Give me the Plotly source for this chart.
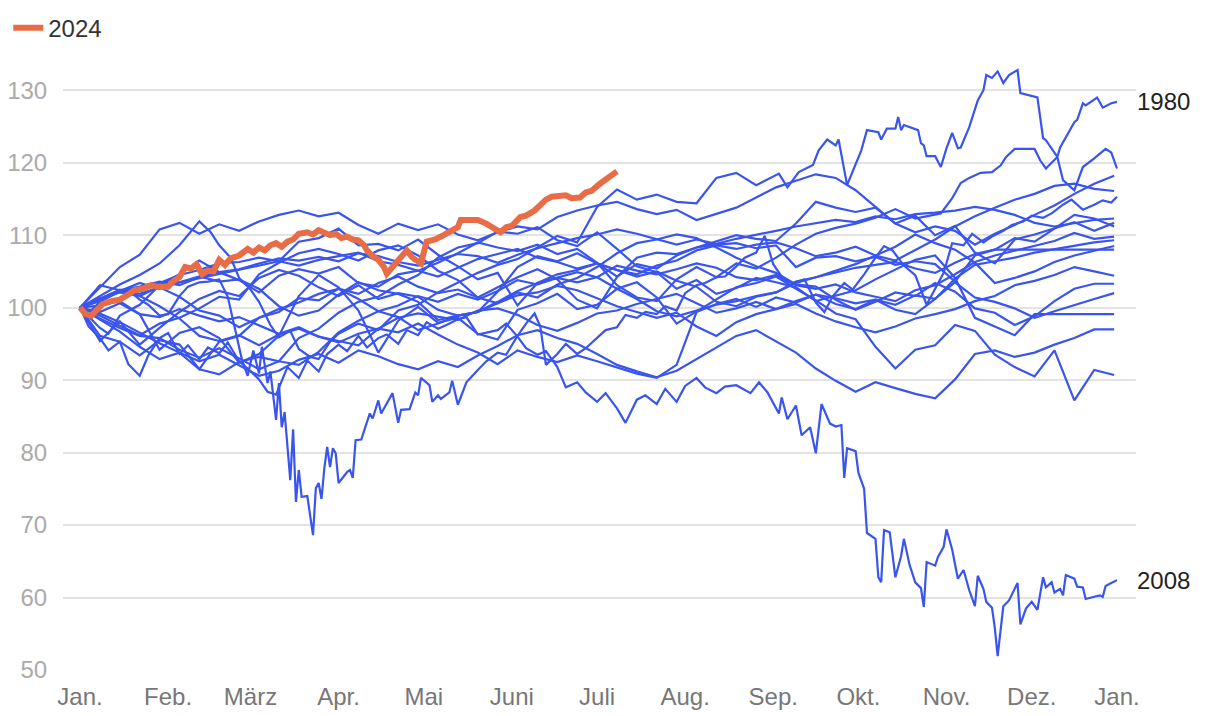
import plotly.graph_objects as go

# ---- axis / labels ----
month_days = [0, 31, 60, 91, 121, 152, 182, 213, 244, 274, 305, 335, 365]
month_labels = ["Jan.", "Feb.", "März", "Apr.", "Mai", "Juni", "Juli", "Aug.", "Sep.", "Okt.", "Nov.", "Dez.", "Jan."]
y_ticks = [50, 60, 70, 80, 90, 100, 110, 120, 130]

# shared weekly grid (day of year)
weekly_days = list(range(0, 365, 7))

# ---- weekly series (index, first trading day = 100) ----
y1948 = [100, 99.2, 98.0, 96.5, 95.1, 93.8, 91.5, 90.8, 92.5, 93.2, 92.6, 95.8, 97.1, 99.3, 100.8, 101.5, 103.2, 104.5,
         106.9, 108.3, 108.9, 110.5, 110.2, 111.1, 109.3, 108.5, 110.4, 108.1, 105.7, 104.9, 102.6, 103.8, 101.9, 102.7,
         104.1, 103.5, 102.8, 100.9, 101.6, 102.4, 103.9, 105.2, 106.6, 107.2, 104.1, 98.6, 97.4, 96.2, 99.1, 99.1,
         99.1, 99.1, 99.1]
y1952 = [100, 101.2, 102.5, 101.9, 102.8, 101.5, 99.6, 98.9, 97.3, 98.6, 99.8, 100.7, 101.9, 102.6, 101.2, 99.5, 98.7,
         96.9, 97.8, 98.9, 99.4, 100.8, 102.3, 103.4, 104.1, 104.9, 104.2, 105.8, 105.1, 104.6, 105.3, 106.1, 105.5,
         104.2, 103.8, 104.5, 103.1, 102.6, 103.2, 102.1, 101.5, 100.9, 102.4, 103.1, 104.6, 106.3, 107.2, 107.9,
         108.6, 109.2, 110.3, 109.5, 109.8]
y1956 = [100, 98.9, 97.5, 96.2, 97.8, 98.6, 99.9, 101.5, 101.1, 104.6, 106.2, 107.5, 108.1, 107.4, 106.5, 107.9, 108.6,
         107.2, 105.1, 103.8, 101.4, 100.6, 102.1, 101.4, 103.2, 104.1, 105.6, 107.5, 108.9, 109.4, 110.1, 109.6, 108.3,
         106.9, 105.7, 104.8, 103.2, 102.9, 101.1, 99.7, 100.8, 102.1, 101.6, 103.4, 102.2, 99.9, 99.3, 97.6, 98.8,
         100.9, 102.6, 103.3, 103.3]
y1960 = [100, 98.4, 96.7, 94.6, 92.9, 93.8, 92.6, 93.5, 92.1, 90.6, 91.3, 92.8, 93.6, 92.4, 94.1, 93.3, 92.2, 91.5,
         92.6, 91.8, 93.4, 94.7, 96.2, 96.9, 95.8, 95.0, 93.6, 92.1, 91.2, 90.4, 91.3, 92.9, 94.6, 96.1, 96.9, 95.4,
         93.8, 91.6, 89.9, 88.4, 89.7, 88.9, 88.1, 87.5, 90.1, 93.6, 94.1, 93.2, 93.8, 94.9, 95.8, 97.0, 97.0]
y1964 = [100, 101.2, 102.4, 102.9, 103.6, 103.1, 104.2, 104.9, 105.3, 106.1, 106.8, 106.5, 107.0, 106.4, 107.5, 107.1,
         106.3, 105.8, 106.6, 107.4, 107.1, 106.2, 107.3, 108.2, 108.9, 109.6, 110.1, 110.8, 110.2, 109.5, 108.7, 109.4,
         108.8, 109.5, 110.0, 110.6, 111.2, 111.7, 112.1, 111.8, 112.6, 112.2, 112.9, 113.1, 113.4, 113.9, 113.5, 112.8,
         111.7, 111.2, 111.6, 112.1, 112.3]
y1968 = [100, 98.5, 97.2, 96.1, 95.8, 94.2, 93.1, 94.4, 93.0, 91.5, 92.6, 92.1, 93.9, 96.6, 98.2, 99.5, 100.3, 101.6,
         100.8, 101.9, 101.1, 102.3, 103.8, 103.2, 104.1, 103.5, 104.2, 102.6, 101.2, 99.5, 98.8, 99.6, 100.4, 100.9,
         101.6, 102.1, 103.4, 104.2, 104.9, 105.5, 105.9, 106.3, 105.4, 104.8, 106.2, 107.4, 108.0, 108.0, 108.0, 108.0,
         108.0, 108.0, 108.0]
y1972 = [100, 101.3, 102.1, 101.6, 102.9, 103.5, 104.1, 104.6, 105.3, 105.9, 106.4, 105.8, 106.6, 107.1, 107.6, 106.4,
         105.9, 105.1, 104.3, 105.5, 106.7, 107.4, 108.1, 106.9, 106.3, 105.4, 106.1, 105.2, 104.6, 105.8, 106.5, 107.9,
         108.6, 108.1, 108.7, 109.0, 108.2, 107.1, 107.6, 108.4, 107.2, 106.5, 107.9, 109.4, 111.2, 112.6, 113.8, 114.9,
         115.7, 116.8, 117.1, 116.4, 116.1]
y1976 = [100, 102.8, 105.6, 107.3, 110.8, 111.7, 110.2, 111.5, 110.6, 111.9, 112.8, 113.4, 112.6, 113.1, 111.4, 110.2,
         111.6, 110.7, 111.5, 110.1, 109.3, 110.4, 111.2, 110.8, 112.5, 113.4, 114.1, 114.6, 113.6, 112.9, 113.5, 112.1,
         112.9, 113.8, 115.2, 116.6, 117.5, 118.4, 117.9, 116.2, 113.9, 111.6, 110.4, 111.2, 110.6, 108.7, 110.2, 111.4,
         112.8, 114.1, 115.7, 117.1, 118.2]
y1984 = [100, 103.1, 102.4, 101.6, 100.2, 98.5, 96.1, 95.4, 96.2, 94.8, 96.3, 97.1, 96.0, 95.2, 96.4, 97.1, 96.6, 97.8,
         96.3, 94.9, 93.8, 92.2, 94.1, 93.2, 92.5, 93.4, 92.6, 91.8, 90.9, 90.3, 92.1, 99.4, 100.5, 101.2, 100.1, 101.4,
         100.7, 101.8, 100.5, 99.8, 101.1, 100.4, 101.7, 101.2, 103.5, 101.4, 100.8, 99.9, 98.6, 99.5, 100.4, 101.2, 102.0]
y1988 = [100, 95.4, 98.1, 94.9, 97.2, 99.4, 101.2, 102.3, 101.6, 104.1, 105.2, 104.4, 102.8, 101.6, 103.1, 101.2, 102.0,
         101.5, 99.7, 98.9, 99.4, 102.2, 105.6, 107.1, 106.4, 107.5, 106.1, 105.2, 104.3, 105.0, 103.7, 102.9, 100.8,
         100.2, 101.5, 102.1, 103.6, 104.2, 105.1, 106.0, 107.2, 108.4, 110.1, 108.9, 108.0, 106.2, 103.4, 104.1, 105.0,
         106.3, 107.2, 107.8, 108.5]
y1992 = [100, 100.3, 100.9, 99.1, 98.7, 99.8, 98.9, 98.1, 98.7, 97.6, 96.4, 97.3, 96.0, 95.4, 94.8, 97.1, 98.6, 99.2,
         98.7, 98.3, 99.6, 99.9, 99.0, 97.6, 96.8, 97.9, 99.2, 99.6, 100.5, 101.2, 101.9, 100.6, 99.3, 99.9, 100.8, 99.8,
         100.5, 99.2, 98.1, 97.3, 96.6, 97.4, 98.5, 99.1, 99.8, 100.9, 101.6, 103.1, 103.7, 104.5, 105.6, 105.0, 104.4]
y2000 = [100, 99.4, 100.6, 99.1, 94.2, 96.5, 97.3, 95.8, 92.4, 93.6, 96.1, 101.6, 104.5, 102.8, 99.6, 93.8, 98.2, 100.1,
         97.9, 98.6, 96.4, 95.6, 99.7, 100.6, 101.9, 99.8, 100.4, 102.6, 103.5, 101.4, 97.8, 99.5, 101.2, 102.8, 103.4,
         104.3, 102.6, 101.0, 99.2, 98.4, 94.6, 91.6, 94.2, 94.8, 97.6, 96.8, 93.5, 91.8, 90.5, 94.1, 87.2, 91.4, 90.7]
y2004 = [100, 101.2, 102.3, 103.4, 102.6, 103.5, 104.3, 103.6, 103.9, 102.6, 100.2, 98.9, 99.6, 101.8, 103.5, 102.4,
         101.9, 100.8, 98.3, 98.9, 99.4, 100.6, 101.7, 102.1, 103.0, 102.4, 101.3, 100.2, 99.4, 98.6, 99.3, 97.4, 96.1,
         98.0, 99.1, 99.8, 100.9, 101.8, 101.3, 100.6, 101.1, 99.7, 99.1, 101.2, 104.0, 105.9, 106.4, 106.9, 107.6, 108.1,
         108.5, 109.0, 109.3]
y2012 = [100, 100.9, 102.2, 102.8, 103.4, 104.5, 105.2, 106.1, 106.3, 106.9, 106.4, 109.1, 109.6, 110.9, 108.6, 108.8,
         107.9, 109.4, 107.3, 105.7, 103.9, 104.8, 100.3, 103.4, 104.6, 105.2, 106.1, 104.3, 106.0, 105.4, 107.2, 108.3,
         109.1, 110.0, 109.5, 109.2, 111.6, 114.6, 113.8, 113.2, 113.8, 111.6, 112.7, 110.0, 111.3, 107.6, 106.1, 109.4,
         110.1, 111.0, 111.8, 110.6, 111.7]
y2016 = [100, 96.1, 95.3, 93.4, 95.5, 94.9, 91.5, 95.3, 96.1, 98.6, 99.4, 101.3, 101.0, 102.6, 101.9, 103.4, 104.3,
         102.9, 102.0, 102.5, 101.4, 102.8, 104.2, 105.3, 103.9, 101.1, 99.9, 104.2, 106.9, 107.6, 107.4, 108.3, 108.7,
         108.9, 108.2, 108.6, 105.6, 106.9, 107.1, 106.4, 107.0, 105.9, 106.4, 106.0, 103.6, 107.2, 108.0, 109.6, 109.1,
         110.9, 112.8, 112.3, 111.2]

# ---- series with their own day grids ----
d1980 = [0, 7, 14, 21, 28, 35, 42, 46, 49, 53, 56, 60, 63, 67, 70, 74, 77, 81, 84, 88, 91, 98, 105, 112, 119, 126, 133,
         140, 147, 154, 161, 168, 175, 182, 189, 196, 203, 210, 217, 224, 231, 238, 246, 249, 253, 258, 260, 263, 266,
         267, 270, 275, 277, 281, 282, 284, 287, 288, 289, 290, 295, 296, 297, 298, 301, 303, 305, 307, 309, 310, 313,
         316, 318, 319, 321, 323, 325, 327, 330, 331, 337, 339, 340, 344, 345, 348, 350, 351, 353, 354, 358, 360, 363, 365]
y1980 = [100, 101.6, 103.2, 104.5, 106.1, 108.6, 111.9, 110.4, 108.6, 106.9, 104.1, 102.5, 100.8, 97.6, 95.9, 96.8,
         94.3, 93.2, 92.9, 95.3, 96.4, 97.8, 96.9, 99.6, 100.4, 102.1, 103.5, 104.8, 105.9, 106.7, 108.3, 109.9, 109.0,
         113.9, 116.3, 114.9, 115.6, 114.6, 114.4, 117.9, 118.6, 116.9, 118.5, 116.6, 118.7, 119.7, 121.7, 123.2, 122.4,
         123.2, 116.9, 121.7, 124.5, 124.2, 123.2, 124.7, 124.7, 126.3, 124.5, 125.2, 124.5, 122.7, 122.4, 120.9, 120.9,
         119.4, 122.0, 124.1, 122.0, 122.1, 124.9, 128.6, 130.0, 132.1, 131.7, 132.6, 131.0, 132.1, 132.8, 129.6, 129.0,
         123.4, 123.1, 120.8, 122.1, 124.1, 125.6, 125.9, 128.2, 127.9, 129.0, 127.6, 128.2, 128.4]

d1996 = [0, 7, 10, 14, 21, 28, 35, 42, 49, 56, 63, 70, 77, 84, 91, 98, 105, 112, 119, 126, 133, 140, 147, 154, 161, 168,
         175, 182, 189, 196, 203, 210, 217, 224, 231, 238, 245, 252, 259, 266, 273, 280, 287, 294, 303, 307, 310, 313,
         317, 321, 324, 326, 329, 336, 338, 340, 344, 346, 350, 353, 357, 361, 363, 365]
y1996 = [100, 97.2, 96.4, 98.9, 100.4, 103.1, 104.6, 106.5, 104.9, 103.8, 102.1, 104.4, 105.3, 104.7, 105.6, 103.4,
         102.9, 104.6, 105.1, 106.2, 107.5, 109.0, 108.3, 107.8, 108.7, 107.4, 108.1, 106.2, 103.1, 101.4, 100.9, 103.9,
         105.6, 104.2, 106.1, 105.4, 106.9, 108.7, 110.2, 111.0, 111.6, 112.4, 113.6, 112.3, 113.0, 115.1, 117.2, 117.9,
         118.6, 118.7, 119.6, 120.8, 121.9, 121.9, 120.3, 119.2, 120.8, 117.6, 116.2, 119.4, 120.6, 121.9, 121.4, 119.2]

d2008 = [0, 3, 7, 10, 14, 17, 21, 24, 28, 31, 35, 38, 42, 45, 49, 52, 56, 59, 63, 66, 69, 73, 77, 80, 84, 87, 91, 94,
         98, 101, 105, 108, 112, 115, 119, 122, 126, 129, 133, 136, 140, 143, 147, 150, 154, 157, 161, 164, 168, 171,
         175, 178, 182, 185, 189, 192, 196, 199, 203, 206, 210, 213, 217, 220, 224, 227, 231, 236, 239, 242, 246, 247,
         249, 252, 254, 257, 259, 261, 264, 266, 268, 269, 270, 273, 274, 276, 277, 280, 281, 282, 283, 285, 287, 289,
         290, 292, 294, 296, 297, 298, 301, 302, 304, 305, 307, 309, 311, 313, 315, 316, 318, 319, 321, 322, 323, 325,
         327, 330, 331, 333, 335, 337, 339, 340, 342, 343, 345, 346, 347, 350, 351, 353, 354, 357, 359, 360, 361, 363, 365]
y2008 = [100, 97.4, 95.8, 94.1, 95.3, 92.2, 90.6, 93.4, 95.8, 96.5, 93.6, 94.8, 92.9, 94.5, 93.7, 95.2, 92.6, 91.6,
         90.1, 88.4, 88.0, 91.8, 90.3, 92.7, 91.2, 93.6, 94.9, 94.0, 96.1, 94.5, 95.8, 96.3, 95.0, 96.9, 96.2, 98.0, 97.1,
         97.6, 98.4, 98.7, 96.3, 96.6, 96.9, 97.8, 96.0, 94.4, 93.5, 94.0, 91.8, 89.0, 89.7, 88.3, 87.0, 88.2, 86.1, 84.1,
         87.3, 87.9, 86.7, 88.8, 87.0, 89.2, 90.3, 89.0, 88.2, 89.1, 89.3, 88.2, 89.7, 88.3, 85.4, 87.6, 84.6, 86.5, 82.4,
         83.5, 79.9, 86.7, 84.0, 83.6, 83.8, 76.5, 80.6, 80.2, 77.2, 75.0, 68.9, 68.1, 62.8, 62.1, 69.3, 69.0, 62.8, 65.7,
         68.1, 64.5, 62.1, 61.3, 58.7, 64.9, 64.4, 65.6, 67.0, 69.4, 66.6, 62.6, 63.8, 61.0, 58.8, 63.0, 61.2, 59.4, 58.6,
         55.8, 51.9, 58.8, 59.6, 62.0, 56.3, 58.5, 59.4, 58.3, 62.8, 61.4, 62.1, 60.7, 61.2, 60.3, 63.1, 62.6, 61.5, 61.4,
         59.8, 60.1, 60.3, 60.1, 61.6, 62.0, 62.4]

d2020 = [0, 3, 7, 10, 14, 17, 21, 24, 28, 31, 35, 38, 42, 45, 49, 52, 55, 57, 59, 61, 63, 64, 66, 67, 69, 70, 71, 72,
         74, 75, 76, 77, 78, 80, 82, 83, 84, 85, 86, 87, 88, 89, 90, 91, 94, 95, 96, 97, 99, 101, 102, 103, 105, 106, 110,
         112, 113, 116, 118, 119, 120, 123, 124, 126, 127, 130, 131, 133, 136, 140, 143, 147, 150, 154, 157, 160, 162,
         164, 168, 171, 175, 178, 182, 185, 189, 192, 196, 199, 203, 206, 210, 213, 217, 220, 224, 227, 231, 234, 238,
         241, 244, 248, 251, 255, 259, 262, 265, 269, 272, 276, 280, 283, 286, 290, 294, 298, 301, 304, 307, 311, 314,
         318, 321, 325, 328, 332, 335, 339, 342, 346, 349, 353, 357, 360, 363, 365]
y2020 = [100, 99.3, 100.8, 101.4, 102.3, 102.4, 101.1, 100.4, 98.9, 99.1, 101.6, 102.9, 103.5, 103.6, 103.9, 101.5,
         96.4, 92.8, 90.6, 94.1, 90.9, 94.6, 89.6, 91.2, 84.5, 89.6, 83.5, 85.6, 76.2, 83.2, 73.2, 77.6, 73.9, 74.0, 68.6,
         75.1, 75.8, 73.6, 77.9, 80.8, 78.0, 80.6, 79.9, 75.8, 77.3, 77.6, 76.5, 81.7, 81.8, 84.2, 85.4, 84.7, 87.2, 85.4,
         88.2, 84.1, 85.9, 86.0, 88.3, 87.9, 90.3, 89.3, 87.0, 87.9, 87.4, 88.3, 89.9, 86.6, 89.7, 91.4, 92.6, 93.8, 93.5,
         96.1, 97.8, 99.2, 97.4, 92.1, 93.6, 95.0, 93.6, 94.4, 95.8, 96.9, 97.3, 99.0, 98.6, 99.4, 99.1, 100.2, 99.6,
         102.0, 103.1, 103.4, 104.2, 104.3, 105.7, 106.9, 107.6, 109.9, 106.0, 103.7, 103.4, 103.9, 100.7, 99.4, 101.6,
         103.4, 102.5, 104.6, 106.9, 108.5, 107.9, 105.8, 104.5, 100.4, 102.6, 104.8, 108.9, 108.6, 110.2, 109.0, 109.8,
         110.6, 111.4, 111.9, 112.7, 112.4, 113.0, 114.2, 114.9, 113.5, 114.2, 114.8, 114.5, 115.3]

d2024 = [0, 2, 4, 6, 8, 11, 14, 17, 19, 22, 25, 27, 29, 31, 33, 35, 37, 39, 41, 43, 45, 47, 49, 51, 53, 56, 59, 61, 63,
         65, 67, 69, 71, 73, 75, 77, 80, 82, 84, 86, 88, 90, 92, 94, 96, 98, 100, 101, 103, 105, 107, 108, 110, 112, 114,
         115, 117, 118, 120, 122, 125, 128, 130, 133, 134, 137, 140, 143, 145, 148, 150, 152, 155, 157, 160, 162, 164,
         166, 168, 171, 173, 176, 178, 180, 183, 185, 187, 189]
y2024 = [100, 99.1, 98.9, 99.7, 100.5, 100.9, 101.1, 101.8, 102.4, 102.6, 103.1, 102.9, 103.0, 102.9, 103.7, 104.2,
         105.6, 105.4, 106.0, 104.6, 105.1, 105.0, 106.6, 105.9, 106.8, 107.2, 108.1, 107.6, 108.3, 107.9, 108.6, 108.9,
         108.4, 109.1, 109.4, 110.2, 110.4, 110.1, 110.7, 110.3, 110.0, 110.2, 109.6, 109.8, 109.4, 109.3, 108.6, 107.9,
         107.1, 106.6, 105.6, 104.7, 105.6, 106.6, 107.2, 107.9, 106.9, 106.6, 106.1, 109.1, 109.4, 110.0, 110.5, 111.1,
         112.1, 112.0, 112.1, 111.6, 111.1, 110.4, 111.1, 111.3, 112.5, 112.7, 113.4, 114.2, 114.9, 115.3, 115.4, 115.5,
         115.1, 115.2, 115.9, 116.1, 117.1, 117.6, 118.1, 118.8]

blue_series = [
    ("1948", weekly_days, y1948), ("1952", weekly_days, y1952), ("1956", weekly_days, y1956),
    ("1960", weekly_days, y1960), ("1964", weekly_days, y1964), ("1968", weekly_days, y1968),
    ("1972", weekly_days, y1972), ("1976", weekly_days, y1976), ("1980", d1980, y1980),
    ("1984", weekly_days, y1984), ("1988", weekly_days, y1988), ("1992", weekly_days, y1992),
    ("1996", d1996, y1996), ("2000", weekly_days, y2000), ("2004", weekly_days, y2004),
    ("2008", d2008, y2008), ("2012", weekly_days, y2012), ("2016", weekly_days, y2016),
    ("2020", d2020, y2020),
]
labelled_years = ["1980", "2008"]

BLUE = "#3a54ee"
ORANGE = "#e86c45"
FONT = "Liberation Sans, Arial, Helvetica, sans-serif"

fig = go.Figure()
for name, xs, ys in blue_series:
    fig.add_trace(go.Scatter(x=xs, y=ys, mode="lines", name=name, showlegend=False,
                             line=dict(color=BLUE, width=2.2), hoverinfo="skip"))
fig.add_trace(go.Scatter(x=d2024, y=y2024, mode="lines", name="2024", showlegend=True,
                         line=dict(color=ORANGE, width=6)))

for name, xs, ys in blue_series:
    if name in labelled_years:
        fig.add_annotation(x=xs[-1], y=ys[-1], text=name, showarrow=False, xanchor="left",
                           yanchor="middle", xshift=18, font=dict(size=24, color="#222222", family=FONT))

fig.update_layout(
    width=1220, height=716,
    margin=dict(l=55, r=92, t=46, b=54, autoexpand=False),
    paper_bgcolor="white", plot_bgcolor="white",
    font=dict(family=FONT, size=24, color="#333333"),
    showlegend=True,
    legend=dict(orientation="h", x=-0.051, y=1.042, xanchor="left", yanchor="middle",
                font=dict(size=24, color="#333333"), bgcolor="rgba(0,0,0,0)"),
    xaxis=dict(range=[-6, 371.7], tickvals=month_days, ticktext=month_labels, showgrid=False,
               zeroline=False, showline=False, ticks="outside", ticklen=5, tickcolor="rgba(0,0,0,0)",
               tickfont=dict(size=24, color="#777777", family=FONT)),
    yaxis=dict(range=[50, 135], tickvals=y_ticks, showgrid=True, gridcolor="#e3e3e3", gridwidth=1.5,
               zeroline=False, showline=False, ticks="outside", ticklen=10, tickcolor="rgba(0,0,0,0)",
               tickfont=dict(size=24, color="#aaaaaa", family=FONT)),
)

fig.write_html("out.html")
